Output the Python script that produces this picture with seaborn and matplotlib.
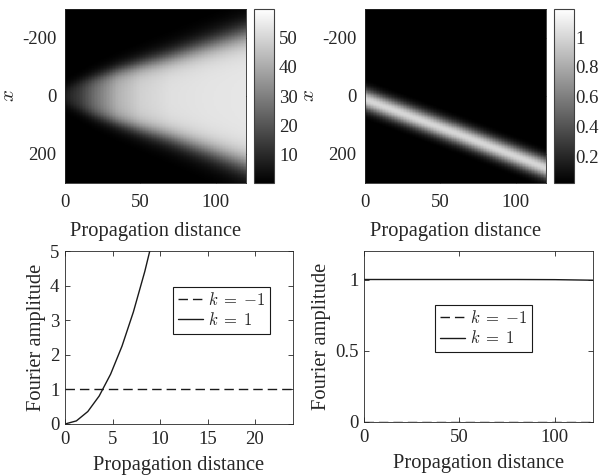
import numpy as np
import pandas as pd
import matplotlib
matplotlib.use("Agg")
import matplotlib.pyplot as plt
import seaborn as sns

# ---------------- data ----------------
# top-left map: spreading cone (node values)
cone_z = [0, 10, 20, 35, 50, 70, 95, 120]
cone_top = [-30, -50, -65, -88, -108, -135, -175, -215]       # upper edge (x)
cone_bottom = [30, 50, 68, 92, 115, 145, 190, 238]            # lower edge (x)
cone_width = [22, 24, 27, 30, 34, 40, 46, 52]                 # edge softness
cone_peak = [8, 15, 27, 42, 49, 52.5, 53.5, 54]               # plateau level
cone_vmin, cone_vmax = 0.4, 59.8
cone_ticks = [10, 20, 30, 40, 50]

# top-right map: drifting beam
beam_z = [0, 30, 60, 90, 120]
beam_center = [12, 70, 128, 188, 248]
beam_sigma = [25, 25, 25, 25, 25]
beam_peak = [1.0, 1.0, 1.0, 1.0, 1.0]
beam_vmin, beam_vmax = 0.02, 1.19
beam_ticks = [0.2, 0.4, 0.6, 0.8, 1]
beam_ticklabels = ["0.2", "0.4", "0.6", "0.8", "1"]

# bottom-left: Fourier amplitudes
bl_z_kp1 = [0, 1.2, 2.4, 3.6, 4.8, 6.0, 7.2, 8.4, 9.6]
bl_amp_kp1 = [0, 0.09, 0.36, 0.81, 1.44, 2.25, 3.24, 4.41, 5.76]
bl_z_km1 = [0, 120]
bl_amp_km1 = [1.0, 1.0]

# bottom-right: Fourier amplitudes
br_z_kp1 = [0, 20, 40, 60, 80, 100, 110, 120]
br_amp_kp1 = [1.0, 1.0, 1.0, 1.0, 1.0, 0.999, 0.997, 0.995]
br_z_km1 = [0, 120]
br_amp_km1 = [0.0, 0.0]

map_xticks = [0, 50, 100]
map_yticks = [-200, 0, 200]
x_range = (-300, 300)
z_range = (0, 120)

label_km1 = r"$k\;=\;{-1}$"
label_kp1 = r"$k\;=\;1$"

# ---------------- style ----------------
sns.set_theme(style="ticks")
TXT = "#262626"
plt.rcParams.update({
    "font.family": ["Liberation Serif", "DejaVu Serif"],
    "mathtext.fontset": "cm",
    "axes.unicode_minus": False,
    "xtick.direction": "in", "ytick.direction": "in",
    "xtick.top": True, "ytick.right": True,
    "xtick.major.size": 3.5, "ytick.major.size": 3.5,
    "xtick.major.width": 0.6, "ytick.major.width": 0.6,
    "xtick.major.pad": 6, "ytick.major.pad": 5,
    "axes.linewidth": 0.6,
    "axes.edgecolor": TXT,
    "xtick.color": TXT, "ytick.color": TXT,
    "xtick.labelsize": 13.5, "ytick.labelsize": 13.5,
    "axes.labelsize": 14.8,
    "lines.dashed_pattern": [6.8, 3.6],
})

W, H = 601, 476
fig = plt.figure(figsize=(W / 100, H / 100), dpi=100)


def px_axes(l, t, r, b):
    return fig.add_axes([l / W, (H - b) / H, (r - l) / W, (b - t) / H])


# grids
dz, dx = 1.0, 2.0
zc = np.arange(z_range[0], z_range[1], dz) + dz / 2
xc = np.arange(x_range[0], x_range[1], dx) + dx / 2
Zg, Xg = np.meshgrid(zc, xc)

top_e = np.interp(Zg, cone_z, cone_top)
bot_e = np.interp(Zg, cone_z, cone_bottom)
wid = np.interp(Zg, cone_z, cone_width)
pk = np.interp(Zg, cone_z, cone_peak)
cone = pk * 0.5 * (np.tanh((Xg - top_e) / wid) - np.tanh((Xg - bot_e) / wid))
cone_df = pd.DataFrame(cone, index=xc, columns=zc)

cen = np.interp(Zg, beam_z, beam_center)
sig = np.interp(Zg, beam_z, beam_sigma)
bpk = np.interp(Zg, beam_z, beam_peak)
beam = bpk * np.exp(-0.5 * ((Xg - cen) / sig) ** 2)
beam_df = pd.DataFrame(beam, index=xc, columns=zc)


def zpos(v):
    return [(t - z_range[0]) / dz for t in v]


def xpos(v):
    return [(t - x_range[0]) / dx for t in v]


def draw_map(ax, cax, df, vmin, vmax, cticks, clabels, cpad):
    sns.heatmap(df, ax=ax, cbar_ax=cax, cmap="gray", vmin=vmin, vmax=vmax,
                xticklabels=False, yticklabels=False, rasterized=True)
    for s in ax.spines.values():
        s.set_visible(True)
        s.set_linewidth(0.6)
        s.set_color(TXT)
    ax.set_xticks(zpos(map_xticks))
    ax.set_xticklabels([str(t) for t in map_xticks])
    ax.set_yticks(xpos(map_yticks))
    ax.set_yticklabels([str(t) for t in map_yticks])
    ax.tick_params(axis="x", which="both", direction="in", top=True,
                   bottom=True, length=3.5, width=0.6, color=TXT,
                   labelsize=13.5, labelcolor=TXT, rotation=0, pad=8)
    ax.tick_params(axis="y", which="both", direction="in", left=True,
                   right=True, length=3.5, width=0.6, color=TXT,
                   labelsize=13.5, labelcolor=TXT, rotation=0, pad=6)
    ax.set_xlabel("Propagation distance", fontsize=14.8, labelpad=8)
    ax.set_ylabel("$x$", fontsize=15)
    ax.yaxis.set_label_coords(-0.255, 0.5)
    cb = ax.collections[0].colorbar
    cb.outline.set_visible(True)
    cb.outline.set_linewidth(0.8)
    cb.outline.set_edgecolor("#404040")
    cb.set_ticks(cticks)
    cb.set_ticklabels(clabels)
    cax.tick_params(direction="in", length=3, width=0.6, labelsize=13.5,
                    color=TXT, labelcolor=TXT, right=True, left=False,
                    pad=cpad)


ax1 = px_axes(65, 9, 246, 183)
cax1 = px_axes(253.5, 9, 273.5, 183)
draw_map(ax1, cax1, cone_df, cone_vmin, cone_vmax, cone_ticks,
         [str(t) for t in cone_ticks], 4)

ax2 = px_axes(365, 9, 546, 183)
cax2 = px_axes(553.5, 9, 573.5, 183)
draw_map(ax2, cax2, beam_df, beam_vmin, beam_vmax, beam_ticks,
         beam_ticklabels, 1.5)


def draw_lines(ax, zk1, ak1, zkp, akp, xlim, ylim, xticks, yticks,
               yticklabels, leg_anchor):
    sns.lineplot(x=zk1, y=ak1, ax=ax, color="k", linestyle="--",
                 linewidth=1.0, label=label_km1)
    sns.lineplot(x=zkp, y=akp, ax=ax, color="k", linewidth=1.0,
                 label=label_kp1)
    ax.set_xlim(*xlim)
    ax.set_ylim(*ylim)
    ax.set_xticks(xticks)
    ax.set_xticklabels([str(t) for t in xticks])
    ax.set_yticks(yticks)
    ax.set_yticklabels(yticklabels)
    ax.tick_params(axis="x", pad=5)
    ax.tick_params(axis="y", pad=4)
    ax.set_xlabel("Propagation distance", fontsize=14.8, labelpad=6)
    ax.set_ylabel("Fourier amplitude", fontsize=14.8, labelpad=3)
    for s in ax.spines.values():
        s.set_visible(True)
    leg = ax.legend(loc="upper left", bbox_to_anchor=leg_anchor,
                    fancybox=False, framealpha=1, edgecolor="k",
                    fontsize=12, handlelength=1.5, handletextpad=0.3,
                    borderpad=0.3, labelspacing=0.2, borderaxespad=0)
    leg.get_frame().set_linewidth(0.8)


ax3 = px_axes(65, 251, 293, 424)
draw_lines(ax3, bl_z_km1, bl_amp_km1, bl_z_kp1, bl_amp_kp1, (0, 24), (0, 5),
           [0, 5, 10, 15, 20], [0, 1, 2, 3, 4, 5],
           ["0", "1", "2", "3", "4", "5"], (0.472, 0.792))

ax4 = px_axes(364, 251, 593, 422)
draw_lines(ax4, br_z_km1, br_amp_km1, br_z_kp1, br_amp_kp1, (0, 120),
           (0, 1.2), [0, 50, 100], [0, 0.5, 1], ["0", "0.5", "1"],
           (0.31, 0.684))

fig.savefig("out.png", dpi=100)
